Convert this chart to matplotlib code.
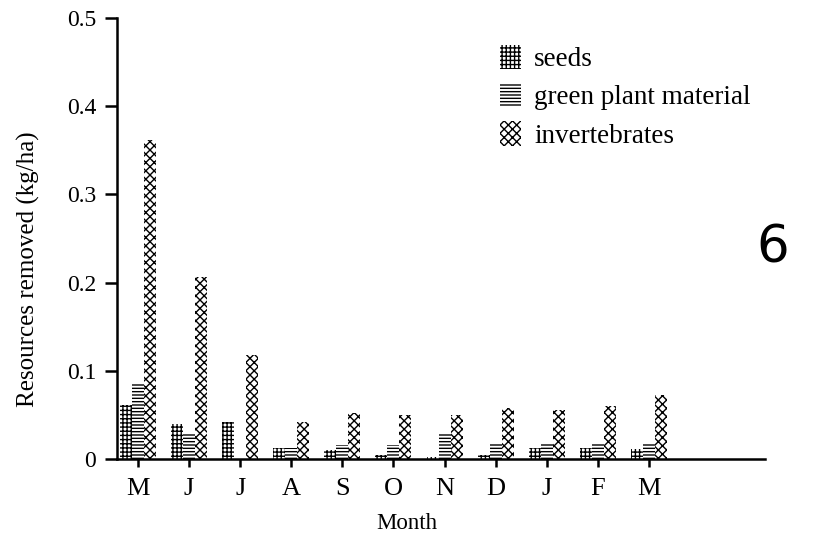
import numpy as np
import matplotlib
matplotlib.use('Agg')
import matplotlib.pyplot as plt

# Data (kg/ha)
months = ['M', 'J', 'J', 'A', 'S', 'O', 'N', 'D', 'J', 'F', 'M']
seeds = [0.061, 0.040, 0.042, 0.013, 0.010, 0.004, 0.002, 0.005, 0.012, 0.012, 0.011]
green = [0.086, 0.030, 0.000, 0.012, 0.016, 0.016, 0.030, 0.017, 0.017, 0.017, 0.018]
inverts = [0.361, 0.206, 0.118, 0.042, 0.052, 0.050, 0.050, 0.058, 0.055, 0.060, 0.072]

plt.rcParams['font.family'] = ['Liberation Serif', 'DejaVu Serif']
plt.rcParams['hatch.linewidth'] = 1.0

fig = plt.figure(figsize=(8.15, 5.36), dpi=100)
ax = fig.add_axes([0.1436, 0.1437, 0.795, 0.823])

x = np.arange(len(months))
w = 0.235
ax.bar(x - w, seeds, w, facecolor='white', edgecolor='black', linewidth=0, hatch='++++', label='seeds')
ax.bar(x, green, w, facecolor='white', edgecolor='black', linewidth=0, hatch='-----', label='green plant material')
ax.bar(x + w, inverts, w, facecolor='white', edgecolor='black', linewidth=0, hatch='xxxx', label='invertebrates')

ax.set_xlim(-0.41, 12.27)
ax.set_ylim(0, 0.5)
ax.set_xticks(x)
ax.set_xticklabels(months, fontsize=19)
ax.set_yticks([0, 0.1, 0.2, 0.3, 0.4, 0.5])
ax.set_yticklabels(['0', '0.1', '0.2', '0.3', '0.4', '0.5'], fontsize=17)
ax.tick_params(axis='both', direction='out', width=1.8, color='black')
ax.tick_params(axis='x', length=6, pad=8)
ax.tick_params(axis='y', length=9, pad=6)

for side in ['top', 'right']:
    ax.spines[side].set_visible(False)
for side in ['left', 'bottom']:
    ax.spines[side].set_linewidth(1.8)

ax.set_ylabel('Resources removed (kg/ha)', fontsize=18)
ax.yaxis.set_label_coords(-0.119, 0.43)
ax.set_xlabel('Month', fontsize=16.5)
ax.xaxis.set_label_coords(0.4475, -0.122)

leg = ax.legend(loc='upper left', bbox_to_anchor=(0.554, 0.994), frameon=False, fontsize=19.5,
                handlelength=0.75, handleheight=1.0, handletextpad=0.5, labelspacing=0.4)

fig.text(0.948, 0.537, '6', fontsize=37, family='DejaVu Sans', ha='center', va='center')

fig.savefig('out.png', dpi=100)
